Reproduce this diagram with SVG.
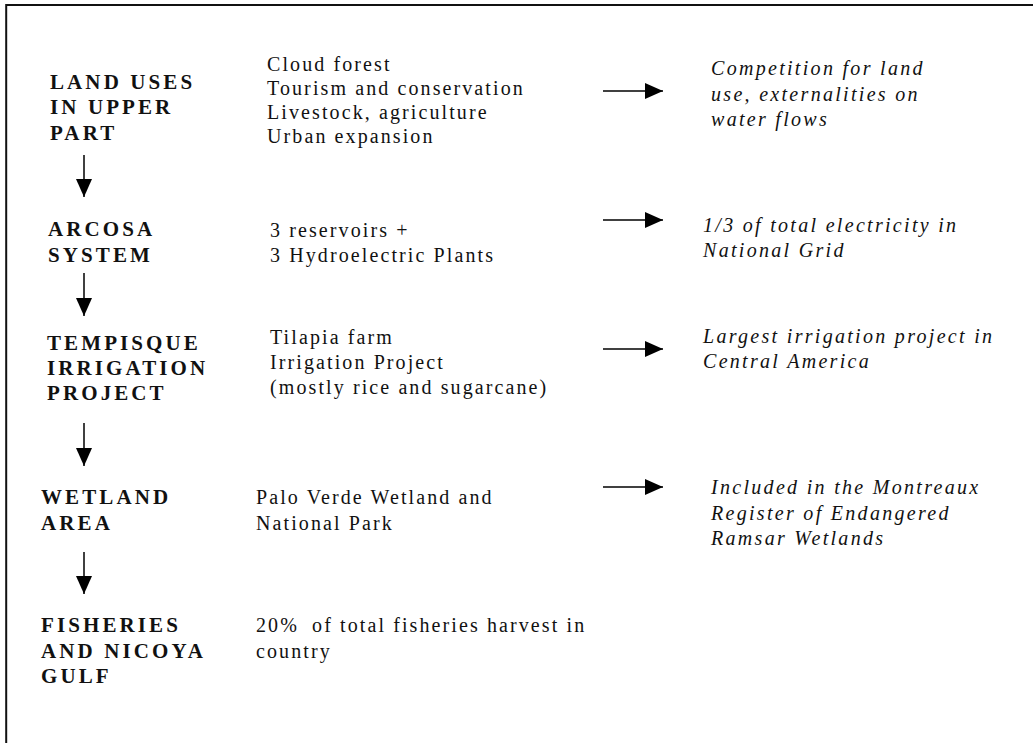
<svg xmlns="http://www.w3.org/2000/svg" width="1033" height="743" viewBox="0 0 1033 743">
<style>
.t{font-family:"Liberation Serif","Times New Roman",serif;font-size:21px;font-weight:bold;letter-spacing:3.1px;fill:#111}
.b{font-family:"Liberation Serif","Times New Roman",serif;font-size:20px;letter-spacing:2.1px;fill:#111}
.i{font-family:"Liberation Serif","Times New Roman",serif;font-size:20px;font-style:italic;letter-spacing:2.3px;fill:#111}
.c{stroke:#000;stroke-width:1.5;fill:none}
</style>
<defs>
<marker id="ah" markerUnits="userSpaceOnUse" markerWidth="18" markerHeight="16" refX="18" refY="8" orient="auto">
<path d="M0,0 L18,8 L0,16 Z" fill="#000"/>
</marker>
</defs>
<rect width="1033" height="743" fill="#fff"/>
<path d="M6.2,743 L6.2,5 L1033,5" stroke="#111" stroke-width="2" fill="none"/>
<g id="connectors">
<line class="c" x1="84" y1="155" x2="84" y2="197" marker-end="url(#ah)"/>
<line class="c" x1="84" y1="273" x2="84" y2="316" marker-end="url(#ah)"/>
<line class="c" x1="84" y1="423" x2="84" y2="466" marker-end="url(#ah)"/>
<line class="c" x1="84" y1="552" x2="84" y2="594" marker-end="url(#ah)"/>
<line class="c" x1="603" y1="91" x2="663" y2="91" marker-end="url(#ah)"/>
<line class="c" x1="603" y1="220" x2="663" y2="220" marker-end="url(#ah)"/>
<line class="c" x1="603" y1="349" x2="663" y2="349" marker-end="url(#ah)"/>
<line class="c" x1="603" y1="487" x2="663" y2="487" marker-end="url(#ah)"/>
</g>
<g id="land-uses">
<text class="t" x="50" y="89">LAND USES</text>
<text class="t" x="50" y="114">IN UPPER</text>
<text class="t" x="50" y="140">PART</text>
</g>
<g id="land-uses-detail">
<text class="b" x="267" y="71">Cloud forest</text>
<text class="b" x="267" y="95">Tourism and conservation</text>
<text class="b" x="267" y="119">Livestock, agriculture</text>
<text class="b" x="267" y="143">Urban expansion</text>
</g>
<g id="land-uses-effect">
<text class="i" x="711" y="75">Competition for land</text>
<text class="i" x="711" y="100.5">use, externalities on</text>
<text class="i" x="711" y="126">water flows</text>
</g>
<g id="arcosa">
<text class="t" x="48" y="236">ARCOSA</text>
<text class="t" x="48" y="262">SYSTEM</text>
</g>
<g id="arcosa-detail">
<text class="b" x="270" y="237">3 reservoirs +</text>
<text class="b" x="270" y="262">3 Hydroelectric Plants</text>
</g>
<g id="arcosa-effect">
<text class="i" x="703" y="232">1/3 of total electricity in</text>
<text class="i" x="703" y="257">National Grid</text>
</g>
<g id="tempisque">
<text class="t" x="47" y="350">TEMPISQUE</text>
<text class="t" x="47" y="375">IRRIGATION</text>
<text class="t" x="47" y="400">PROJECT</text>
</g>
<g id="tempisque-detail">
<text class="b" x="270" y="344">Tilapia farm</text>
<text class="b" x="270" y="369">Irrigation Project</text>
<text class="b" x="270" y="394">(mostly rice and sugarcane)</text>
</g>
<g id="tempisque-effect">
<text class="i" x="703" y="343">Largest irrigation project in</text>
<text class="i" x="703" y="368">Central America</text>
</g>
<g id="wetland">
<text class="t" x="41" y="504">WETLAND</text>
<text class="t" x="41" y="530">AREA</text>
</g>
<g id="wetland-detail">
<text class="b" x="256" y="504">Palo Verde Wetland and</text>
<text class="b" x="256" y="530">National Park</text>
</g>
<g id="wetland-effect">
<text class="i" x="711" y="494">Included in the Montreaux</text>
<text class="i" x="711" y="520">Register of Endangered</text>
<text class="i" x="711" y="545">Ramsar Wetlands</text>
</g>
<g id="fisheries">
<text class="t" x="41" y="632">FISHERIES</text>
<text class="t" x="41" y="658">AND NICOYA</text>
<text class="t" x="41" y="683">GULF</text>
</g>
<g id="fisheries-detail">
<text class="b" x="256" y="632">20% <tspan dx="6">of total fisheries harvest in</tspan></text>
<text class="b" x="256" y="658">country</text>
</g>
</svg>
